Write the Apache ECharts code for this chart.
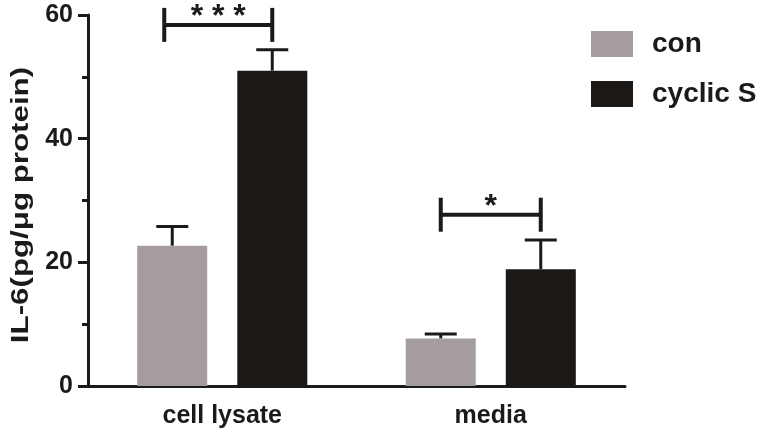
<!DOCTYPE html>
<html>
<head>
<meta charset="utf-8">
<script src="https://cdn.jsdelivr.net/npm/echarts@6/dist/echarts.min.js"></script>
<style>
  html, body { margin: 0; padding: 0; background: #fff; }
  #main { width: 760px; height: 436px; }
</style>
</head>
<body>
<div id="main"></div>
<script>
// data
var categories = ['cell lysate', 'media'];
var conValues = [22.7, 7.7];
var conErr = [3.1, 0.7];
var cyclicValues = [51.0, 18.9];
var cyclicErr = [3.4, 4.7];
var sigLabels = ['* * *', '*'];
var sigLevels = [58.4, 27.7];

var INK = '#1a1a1a';
var FONT = 'Liberation Sans, Arial, sans-serif';
var BAR_OFFSET = 50; // half of (barWidth + gap)

var chart = echarts.init(document.getElementById('main'));

// error bar (upper only) drawn through the axes
function errorSeries(values, errs, offset) {
  return {
    type: 'custom',
    encode: { x: 0, y: [1, 2] },
    data: values.map(function (v, i) { return [i, v, v + errs[i]]; }),
    renderItem: function (params, api) {
      var base = api.coord([api.value(0), api.value(1)]);
      var top = api.coord([api.value(0), api.value(2)]);
      var x = base[0] + offset;
      var st = { stroke: INK, lineWidth: 3 };
      return {
        type: 'group',
        children: [
          { type: 'line', shape: { x1: x, y1: base[1], x2: x, y2: top[1] }, style: st },
          { type: 'line', shape: { x1: x - 16, y1: top[1], x2: x + 16, y2: top[1] }, style: st }
        ]
      };
    },
    z: 3
  };
}

var option = {
  animation: false,
  grid: { left: 88, right: 135, top: 15, bottom: 50 },
  legend: {
    data: ['con', 'cyclic S'],
    orient: 'vertical',
    left: 591,
    top: 30,
    padding: 0,
    itemWidth: 42,
    itemHeight: 26,
    itemGap: 22,
    icon: 'rect',
    textStyle: {
      fontSize: 28, fontWeight: 'bold', color: INK, fontFamily: FONT,
      padding: [0, 0, 0, 14]
    }
  },
  xAxis: {
    type: 'category',
    data: categories,
    axisLine: { lineStyle: { color: INK, width: 3 } },
    axisTick: { alignWithLabel: true, length: 8, lineStyle: { color: INK, width: 3 } },
    axisLabel: { fontSize: 25, fontWeight: 'bold', color: INK, fontFamily: FONT, margin: 18 }
  },
  yAxis: {
    type: 'value',
    min: 0,
    max: 60,
    interval: 20,
    splitLine: { show: false },
    axisLine: { show: true, lineStyle: { color: INK, width: 3 } },
    axisTick: { show: true, length: 10, lineStyle: { color: INK, width: 3 } },
    minorTick: { show: true, splitNumber: 2, length: 6, lineStyle: { color: INK, width: 3 } },
    axisLabel: { fontSize: 25, fontWeight: 'bold', color: INK, fontFamily: FONT, margin: 15 }
  },
  graphic: [{
    type: 'text',
    x: 22,
    y: 205,
    rotation: Math.PI / 2,
    scaleX: 1.36,
    style: {
      text: 'IL-6(pg/μg protein)',
      font: 'bold 23px ' + FONT,
      fill: INK,
      align: 'center',
      verticalAlign: 'middle'
    }
  }],
  series: [
    {
      name: 'con',
      type: 'bar',
      data: conValues,
      barWidth: 70,
      barGap: '43%',
      itemStyle: { color: '#a49c9d' }
    },
    {
      name: 'cyclic S',
      type: 'bar',
      data: cyclicValues,
      barWidth: 70,
      barGap: '43%',
      itemStyle: { color: '#1b1816' }
    },
    errorSeries(conValues, conErr, -BAR_OFFSET),
    errorSeries(cyclicValues, cyclicErr, BAR_OFFSET),
    {
      // significance brackets
      type: 'custom',
      encode: { x: 0, y: 1 },
      data: sigLevels.map(function (v, i) { return [i, v, sigLabels[i]]; }),
      renderItem: function (params, api) {
        var c = api.coord([api.value(0), api.value(1)]);
        var x1 = c[0] - BAR_OFFSET - (params.dataIndex === 0 ? 8 : 0);
        var x2 = c[0] + BAR_OFFSET;
        var y = c[1];
        var st = { stroke: INK, lineWidth: 4 };
        return {
          type: 'group',
          children: [
            { type: 'line', shape: { x1: x1, y1: y, x2: x2, y2: y }, style: st },
            { type: 'line', shape: { x1: x1, y1: y - 17, x2: x1, y2: y + 17 }, style: st },
            { type: 'line', shape: { x1: x2, y1: y - 17, x2: x2, y2: y + 17 }, style: st },
            {
              type: 'text',
              x: (x1 + x2) / 2,
              y: y - 8,
              style: {
                text: sigLabels[params.dataIndex],
                font: 'bold 32px ' + FONT,
                fill: INK,
                align: 'center',
                verticalAlign: 'middle'
              }
            }
          ]
        };
      },
      z: 4
    }
  ]
};

chart.setOption(option);
</script>
</body>
</html>
